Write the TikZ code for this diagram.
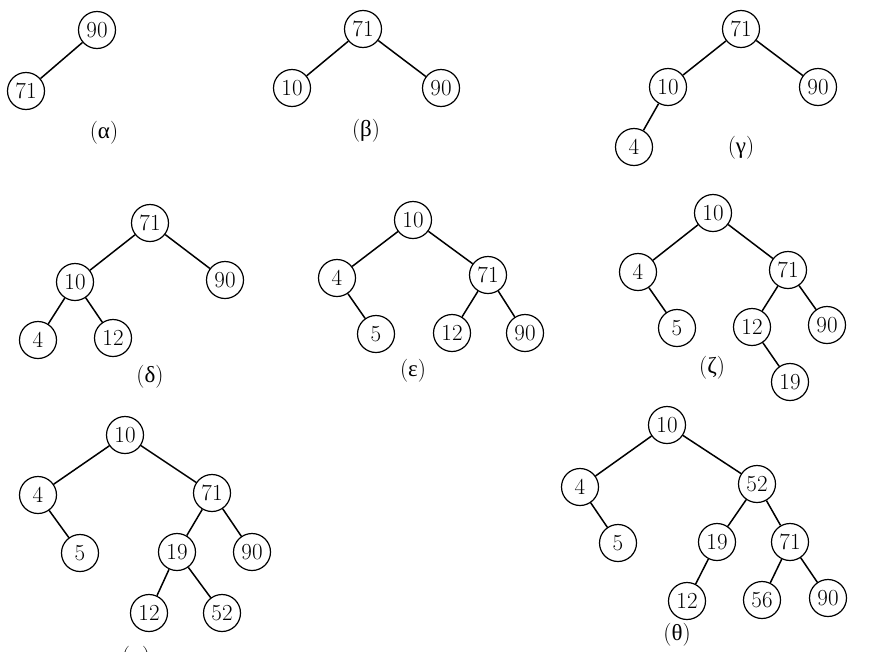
\documentclass[tikz,border=0pt]{standalone}
\usepackage{fontspec}
\usepackage{tikz}
\newfontfamily\greekfont{Liberation Serif}

\begin{document}
\begin{tikzpicture}[
    x=1pt, y=-1pt,
    key/.style={draw, circle, minimum size=37pt, inner sep=0pt, line width=1.2pt,
                font=\fontsize{23}{26}\selectfont},
    edge/.style={line width=1.5pt},
    treelabel/.style={font=\fontsize{23}{26}\selectfont},
]
\path[clip] (0,0) rectangle (890,651);

% Tree (alpha)
\node[key] (a90) at (97,30) {90};
\node[key] (a71) at (26,91) {71};
\draw[edge] (a90) -- (a71);
\node[treelabel] (acap) at (104,133) {({\greekfont α})};

% Tree (beta)
\node[key] (b71) at (363,29) {71};
\node[key] (b10) at (292,88) {10};
\node[key] (b90) at (441,88) {90};
\draw[edge] (b71) -- (b10);
\draw[edge] (b71) -- (b90);
\node[treelabel] (bcap) at (366,131) {({\greekfont β})};

% Tree (gamma)
\node[key] (c71) at (741,29) {71};
\node[key] (c10) at (668,87) {10};
\node[key] (c90) at (818,87) {90};
\node[key] (c4) at (634,147) {4};
\draw[edge] (c71) -- (c10);
\draw[edge] (c71) -- (c90);
\draw[edge] (c10) -- (c4);
\node[treelabel] (ccap) at (741,148) {({\greekfont γ})};

% Tree (delta)
\node[key] (d71) at (150,223) {71};
\node[key] (d10) at (75,282) {10};
\node[key] (d90) at (225,280) {90};
\node[key] (d4) at (38,340) {4};
\node[key] (d12) at (113,338) {12};
\draw[edge] (d71) -- (d10);
\draw[edge] (d71) -- (d90);
\draw[edge] (d10) -- (d4);
\draw[edge] (d10) -- (d12);
\node[treelabel] (dcap) at (150,377) {({\greekfont δ})};

% Tree (epsilon)
\node[key] (e10) at (413,220) {10};
\node[key] (e4) at (337,278) {4};
\node[key] (e71) at (488,275) {71};
\node[key] (e5) at (376,334) {5};
\node[key] (e12) at (452,333) {12};
\node[key] (e90) at (525,333) {90};
\draw[edge] (e10) -- (e4);
\draw[edge] (e10) -- (e71);
\draw[edge] (e4) -- (e5);
\draw[edge] (e71) -- (e12);
\draw[edge] (e71) -- (e90);
\node[treelabel] (ecap) at (413,371) {({\greekfont ε})};

% Tree (zeta)
\node[key] (z10) at (713,213) {10};
\node[key] (z4) at (638,272) {4};
\node[key] (z71) at (788,270) {71};
\node[key] (z5) at (677,328) {5};
\node[key] (z12) at (752,327) {12};
\node[key] (z90) at (827,325) {90};
\node[key] (z19) at (790,382) {19};
\draw[edge] (z10) -- (z4);
\draw[edge] (z10) -- (z71);
\draw[edge] (z4) -- (z5);
\draw[edge] (z71) -- (z12);
\draw[edge] (z71) -- (z90);
\draw[edge] (z12) -- (z19);
\node[treelabel] (zcap) at (712,368) {({\greekfont ζ})};

% Tree (eta)
\node[key] (h10) at (125,435) {10};
\node[key] (h4) at (38,495) {4};
\node[key] (h71) at (212,493) {71};
\node[key] (h5) at (80,553) {5};
\node[key] (h19) at (177,552) {19};
\node[key] (h90) at (252,552) {90};
\node[key] (h12) at (149,613) {12};
\node[key] (h52) at (222,613) {52};
\draw[edge] (h10) -- (h4);
\draw[edge] (h10) -- (h71);
\draw[edge] (h4) -- (h5);
\draw[edge] (h71) -- (h19);
\draw[edge] (h71) -- (h90);
\draw[edge] (h19) -- (h12);
\draw[edge] (h19) -- (h52);
\node[treelabel] (hcap) at (136,658) {({\greekfont η})};

% Tree (theta)
\node[key] (t10) at (667,425) {10};
\node[key] (t4) at (580,487) {4};
\node[key] (t52) at (757,484) {52};
\node[key] (t5) at (618,543) {5};
\node[key] (t19) at (717,542) {19};
\node[key] (t71) at (790,542) {71};
\node[key] (t12) at (687,601) {12};
\node[key] (t56) at (762,600) {56};
\node[key] (t90) at (828,598) {90};
\draw[edge] (t10) -- (t4);
\draw[edge] (t10) -- (t52);
\draw[edge] (t4) -- (t5);
\draw[edge] (t52) -- (t19);
\draw[edge] (t52) -- (t71);
\draw[edge] (t19) -- (t12);
\draw[edge] (t71) -- (t56);
\draw[edge] (t71) -- (t90);
\node[treelabel] (tcap) at (677,635) {({\greekfont θ})};

\end{tikzpicture}
\end{document}
